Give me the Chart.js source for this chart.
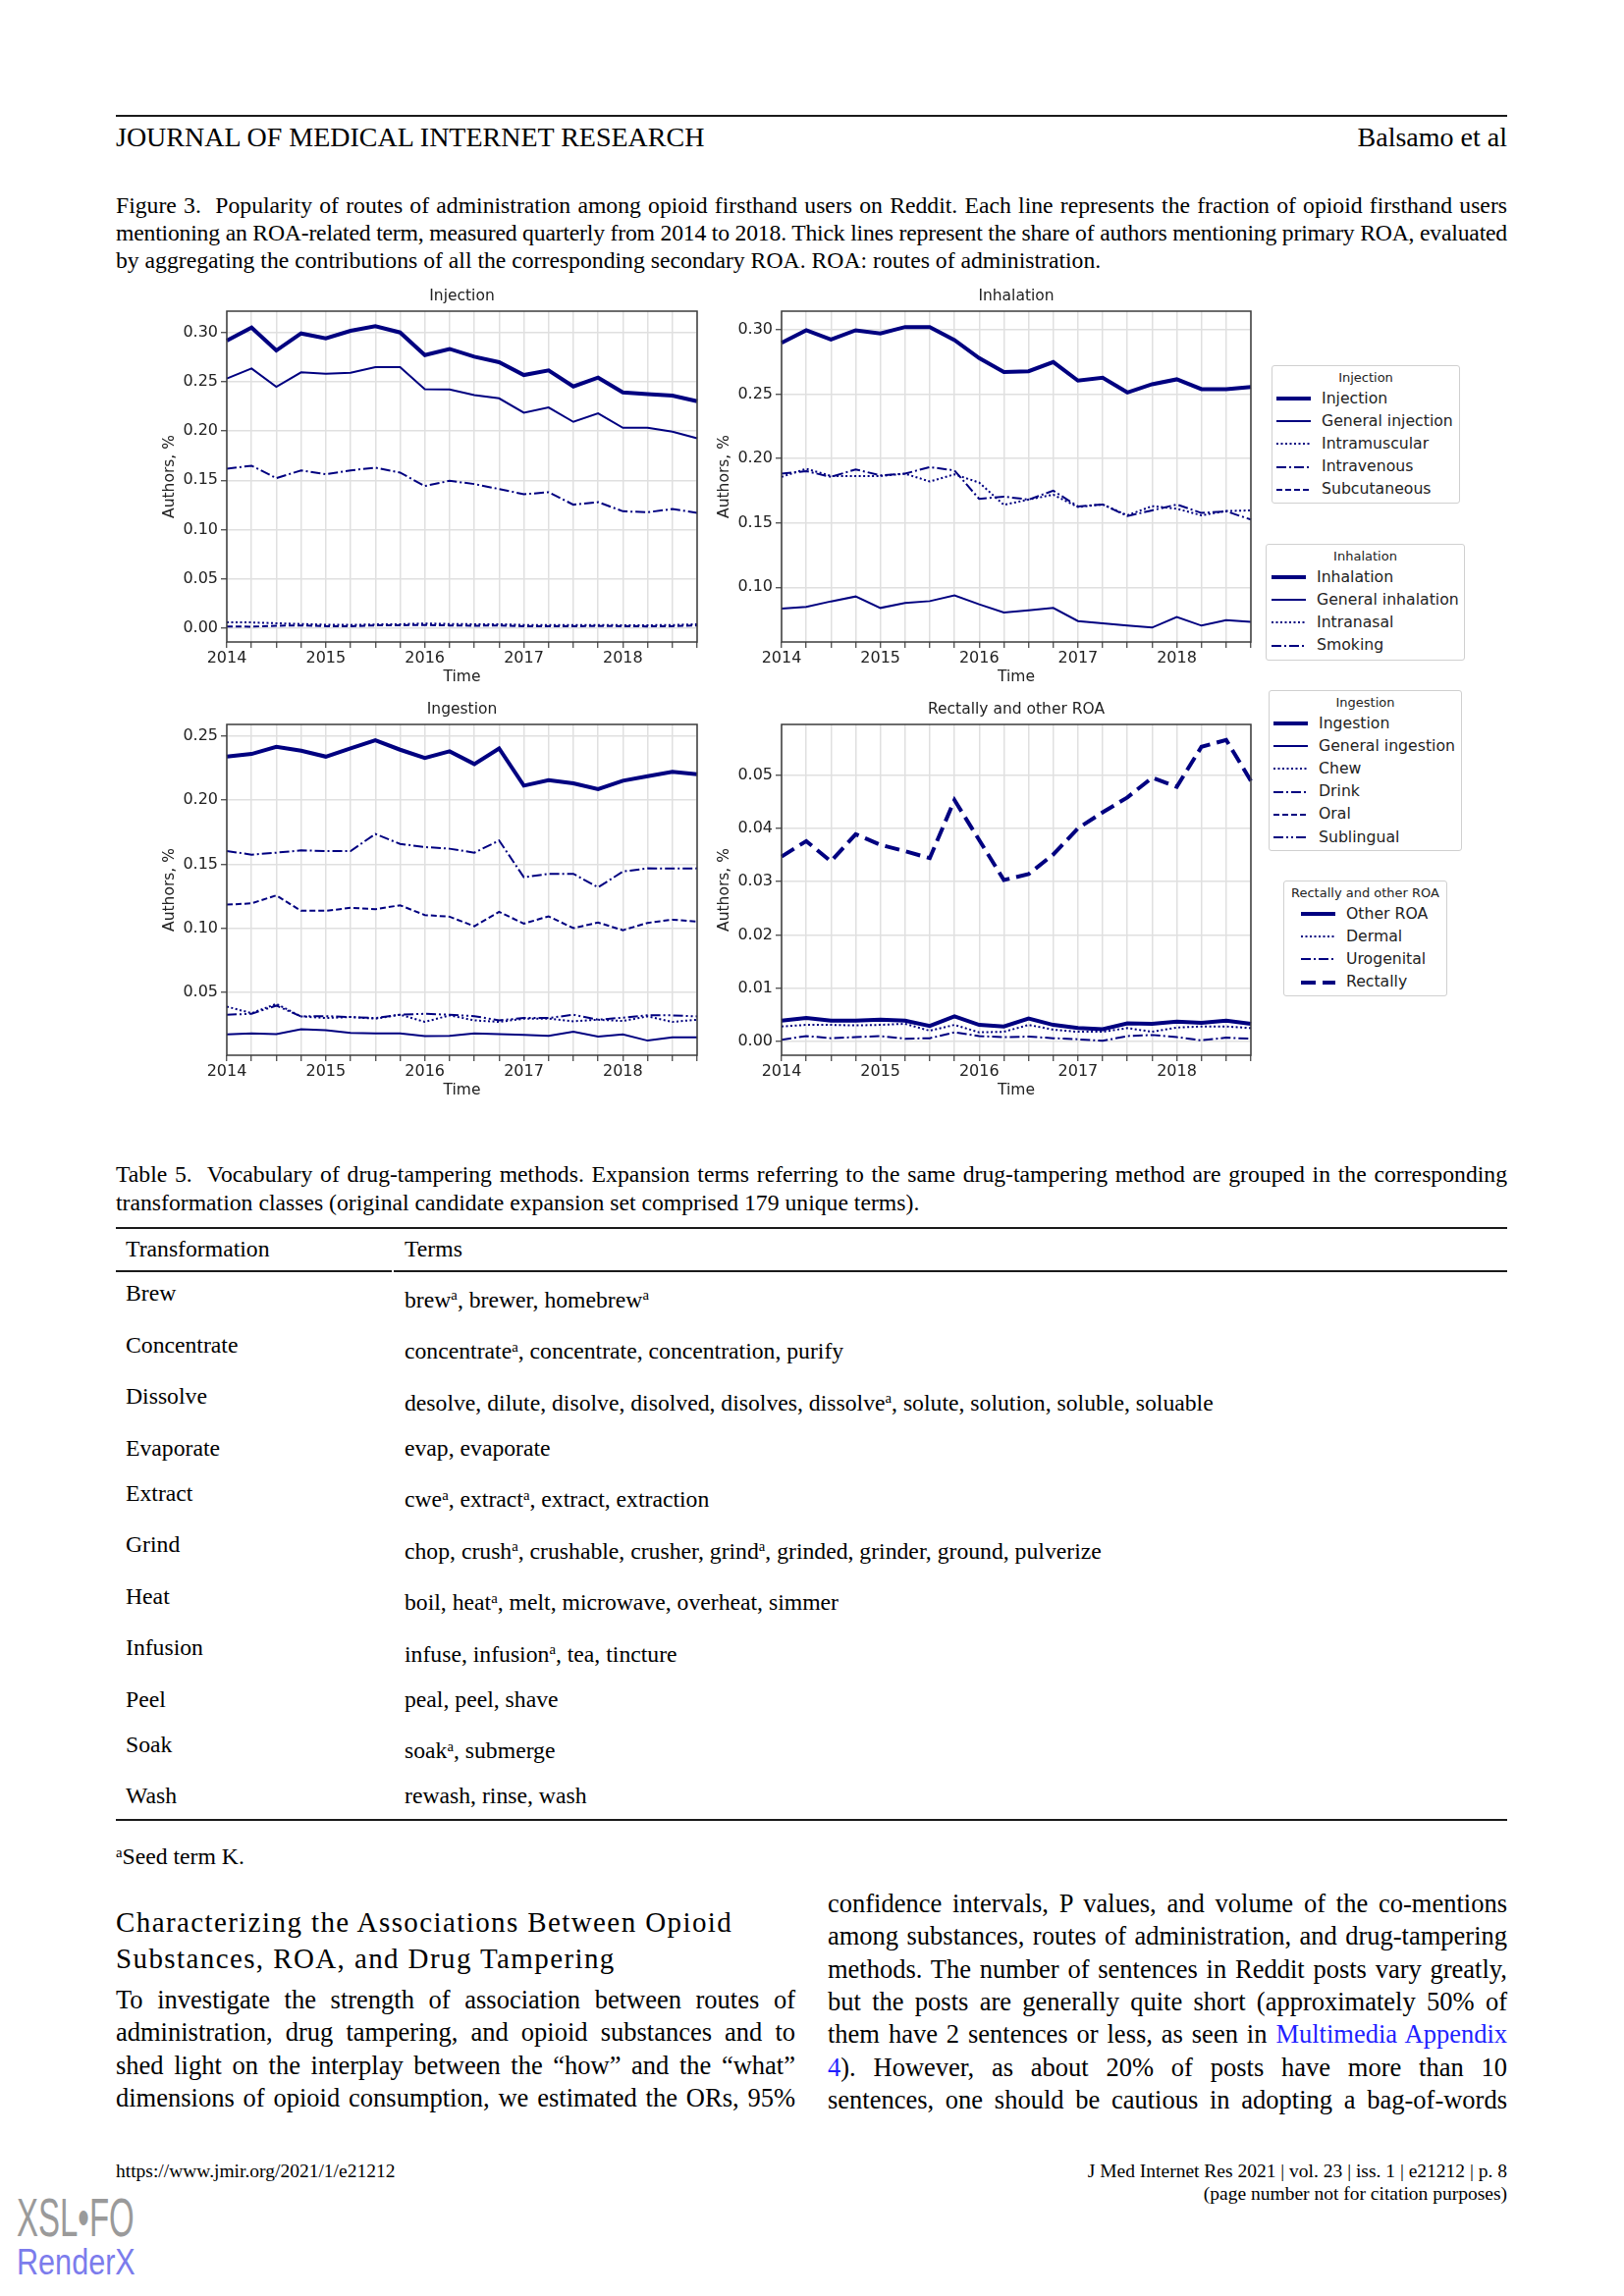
<!DOCTYPE html>
<html>
<head>
<meta charset="utf-8">
<script src="https://cdn.jsdelivr.net/npm/chart.js@4.4.0/dist/chart.umd.min.js"></script>
<style>
html, body { margin: 0; padding: 0; background: #fff; }
body { width: 1654px; height: 2339px; position: relative; overflow: hidden;
       font-family: "Liberation Serif", "Times New Roman", serif; color: #000; }
.t { position: absolute; line-height: 1; }
.nw { white-space: nowrap; }
.j { text-align: justify; text-align-last: justify; }
.rule { position: absolute; background: #1a1a1a; }
.chart { position: absolute; }
.legend { position: absolute; border: 1px solid #d0d0d0; border-radius: 3px; background: #fff;
          font-family: "DejaVu Sans", sans-serif; color: #222; box-sizing: border-box; }
.legend .lt { position: absolute; left: 0; right: 0; text-align: center; font-size: 13px; line-height: 1; }
.legend .li { position: absolute; font-size: 15.7px; line-height: 1; white-space: nowrap; }
.legend svg { position: absolute; overflow: visible; }
sup.s { font-size: 0.62em; position: relative; top: -0.5em; vertical-align: baseline; line-height: 0; }
a.lnk { color: #1f1fff; text-decoration: none; }
</style>
</head>
<body>
<script>
// ---- data (quarterly 2014 Q1 .. 2018 Q4) ----
const quarters = ['2014 Q1','2014 Q2','2014 Q3','2014 Q4','2015 Q1','2015 Q2','2015 Q3','2015 Q4',
  '2016 Q1','2016 Q2','2016 Q3','2016 Q4','2017 Q1','2017 Q2','2017 Q3','2017 Q4',
  '2018 Q1','2018 Q2','2018 Q3','2018 Q4'];
const yearLabels = ['2014', '2015', '2016', '2017', '2018'];

const injection        = [0.2917,0.3050,0.2817,0.2990,0.2940,0.3017,0.3063,0.3000,0.2770,0.2833,0.2754,0.2698,0.2568,0.2615,0.2452,0.2542,0.2392,0.2375,0.2359,0.2302];
const generalInjection = [0.2532,0.2635,0.2449,0.2595,0.2581,0.2591,0.2648,0.2648,0.2425,0.2422,0.2365,0.2332,0.2186,0.2239,0.2093,0.2179,0.2033,0.2033,0.1993,0.1927];
const intramuscular    = [0.0060,0.0058,0.0050,0.0042,0.0035,0.0033,0.0038,0.0040,0.0048,0.0042,0.0040,0.0040,0.0033,0.0032,0.0032,0.0033,0.0030,0.0030,0.0032,0.0040];
const intravenous      = [0.1618,0.1648,0.1522,0.1601,0.1561,0.1601,0.1628,0.1578,0.1442,0.1495,0.1462,0.1412,0.1359,0.1379,0.1253,0.1279,0.1186,0.1176,0.1209,0.1170];
const subcutaneous     = [0.0018,0.0015,0.0025,0.0028,0.0020,0.0020,0.0028,0.0030,0.0032,0.0028,0.0025,0.0027,0.0020,0.0020,0.0020,0.0022,0.0020,0.0018,0.0020,0.0028];

const inhalation        = [0.2898,0.2995,0.2924,0.2995,0.2970,0.3020,0.3020,0.2919,0.2779,0.2670,0.2677,0.2748,0.2604,0.2626,0.2512,0.2576,0.2614,0.2538,0.2538,0.2555];
const generalInhalation = [0.0835,0.0848,0.0891,0.0929,0.0840,0.0878,0.0893,0.0937,0.0868,0.0805,0.0822,0.0840,0.0738,0.0721,0.0703,0.0688,0.0769,0.0703,0.0746,0.0733];
const intranasal        = [0.1857,0.1920,0.1864,0.1864,0.1864,0.1882,0.1821,0.1877,0.1813,0.1640,0.1681,0.1719,0.1623,0.1643,0.1559,0.1630,0.1610,0.1559,0.1592,0.1597];
const smoking           = [0.1882,0.1902,0.1857,0.1915,0.1869,0.1882,0.1933,0.1907,0.1686,0.1704,0.1681,0.1750,0.1628,0.1643,0.1554,0.1597,0.1643,0.1577,0.1590,0.1526];

const ingestion        = [0.2339,0.2360,0.2416,0.2385,0.2339,0.2403,0.2467,0.2393,0.2329,0.2380,0.2281,0.2403,0.2113,0.2156,0.2131,0.2085,0.2151,0.2187,0.2220,0.2202];
const generalIngestion = [0.0174,0.0181,0.0176,0.0214,0.0207,0.0186,0.0181,0.0181,0.0161,0.0163,0.0181,0.0176,0.0169,0.0163,0.0194,0.0156,0.0174,0.0125,0.0151,0.0151];
const chew             = [0.0390,0.0339,0.0411,0.0314,0.0301,0.0309,0.0296,0.0327,0.0271,0.0322,0.0283,0.0271,0.0296,0.0296,0.0276,0.0288,0.0278,0.0314,0.0271,0.0288];
const drink            = [0.1603,0.1575,0.1590,0.1608,0.1603,0.1603,0.1736,0.1659,0.1634,0.1621,0.1590,0.1685,0.1399,0.1425,0.1425,0.1320,0.1443,0.1468,0.1466,0.1468];
const oral             = [0.1185,0.1195,0.1257,0.1137,0.1137,0.1160,0.1150,0.1180,0.1104,0.1091,0.1017,0.1129,0.1037,0.1094,0.1002,0.1045,0.0986,0.1043,0.1068,0.1053];
const sublingual       = [0.0327,0.0334,0.0398,0.0314,0.0316,0.0309,0.0301,0.0327,0.0334,0.0327,0.0316,0.0283,0.0301,0.0301,0.0327,0.0288,0.0304,0.0322,0.0322,0.0314];

const otherRoa   = [0.0039,0.0044,0.0039,0.0039,0.0041,0.0039,0.0029,0.0047,0.0031,0.0028,0.0043,0.0031,0.0025,0.0023,0.0034,0.0033,0.0037,0.0035,0.0039,0.0033];
const dermal     = [0.0028,0.0031,0.0031,0.0030,0.0031,0.0033,0.0020,0.0031,0.0017,0.0018,0.0031,0.0022,0.0018,0.0018,0.0025,0.0018,0.0026,0.0028,0.0028,0.0025];
const urogenital = [0.0003,0.0010,0.0006,0.0008,0.0010,0.0005,0.0006,0.0017,0.0010,0.0008,0.0009,0.0006,0.0004,0.0001,0.0010,0.0012,0.0008,0.0002,0.0007,0.0005];
const rectally   = [0.0347,0.0376,0.0338,0.0389,0.0369,0.0357,0.0344,0.0453,0.0378,0.0303,0.0314,0.0351,0.0400,0.0430,0.0458,0.0495,0.0478,0.0553,0.0566,0.0489];

const yTicksInjection  = [0, 0.05, 0.10, 0.15, 0.20, 0.25, 0.30];
const yTicksInhalation = [0.10, 0.15, 0.20, 0.25, 0.30];
const yTicksIngestion  = [0.05, 0.10, 0.15, 0.20, 0.25];
const yTicksRectally   = [0, 0.01, 0.02, 0.03, 0.04, 0.05];

// table 5
const transformations = ['Brew','Concentrate','Dissolve','Evaporate','Extract','Grind','Heat','Infusion','Peel','Soak','Wash'];
const transformationTerms = [
  ['brew^a','brewer','homebrew^a'],
  ['concentrate^a','concentrate','concentration','purify'],
  ['desolve','dilute','disolve','disolved','disolves','dissolve^a','solute','solution','soluble','soluable'],
  ['evap','evaporate'],
  ['cwe^a','extract^a','extract','extraction'],
  ['chop','crush^a','crushable','crusher','grind^a','grinded','grinder','ground','pulverize'],
  ['boil','heat^a','melt','microwave','overheat','simmer'],
  ['infuse','infusion^a','tea','tincture'],
  ['peal','peel','shave'],
  ['soak^a','submerge'],
  ['rewash','rinse','wash']
];

// ---- line styles ----
const NAVY = '#000080';
const STYLE = {
  primary:    { borderWidth: 4, borderDash: [] },
  general:    { borderWidth: 2, borderDash: [] },
  dotted:     { borderWidth: 2, borderDash: [2, 2.5] },
  dashdot:    { borderWidth: 2, borderDash: [10, 3, 2, 3] },
  dashed:     { borderWidth: 2, borderDash: [6, 3] },
  dashdotdot: { borderWidth: 2, borderDash: [10, 3, 2, 3, 2, 3] },
  thickdash:  { borderWidth: 4, borderDash: [15, 7] }
};

function series(label, data, style) {
  return Object.assign({ label: label, data: data, borderColor: NAVY, backgroundColor: NAVY,
    fill: false, tension: 0, pointRadius: 0 }, STYLE[style], { styleName: style });
}

// ---- text helpers ----
function text(html, x, baseline, size, opts) {
  opts = opts || {};
  const d = document.createElement('div');
  d.className = 't' + (opts.width ? (opts.justify ? ' j' : '') : ' nw');
  d.innerHTML = html;
  d.style.fontSize = size + 'px';
  d.style.top = (baseline - 0.8375 * size) + 'px';
  if (opts.right != null) { d.style.right = (1654 - opts.right) + 'px'; d.style.textAlign = 'right'; }
  else d.style.left = x + 'px';
  if (opts.width) d.style.width = opts.width + 'px';
  if (opts.css) d.style.cssText += opts.css;
  document.body.appendChild(d);
  if (opts.width) {
    let ls = 0;
    while (d.offsetHeight > size * 1.5 && ls > -2) { ls -= 0.1; d.style.letterSpacing = ls + 'px'; }
  }
  return d;
}
function rule(x, y, w, h) {
  const r = document.createElement('div');
  r.className = 'rule';
  r.style.cssText += 'left:' + x + 'px;top:' + y + 'px;width:' + w + 'px;height:' + h + 'px;';
  document.body.appendChild(r);
}
function sup(s) { return s.replace(/\^a/g, '<sup class="s">a</sup>'); }

// ---- page header ----
rule(118, 117, 1417, 1.5);
text('JOURNAL OF MEDICAL INTERNET RESEARCH', 118, 149, 28);
text('Balsamo et al', 0, 149, 28, { right: 1535 });

const figCaption = [
  'Figure 3.&nbsp; Popularity of routes of administration among opioid firsthand users on Reddit. Each line represents the fraction of opioid firsthand users',
  'mentioning an ROA-related term, measured quarterly from 2014 to 2018. Thick lines represent the share of authors mentioning primary ROA, evaluated',
  'by aggregating the contributions of all the corresponding secondary ROA. ROA: routes of administration.'
];
figCaption.forEach((l, i) => text(l, 118, 217.5 + i * 28.3, 23.7, i < 2 ? { width: 1417, justify: true } : {}));

// ---- charts ----
Chart.defaults.font.family = '"DejaVu Sans", sans-serif';
Chart.defaults.color = '#222';

const framePlugin = {
  id: 'frame',
  afterDraw(chart) {
    const a = chart.chartArea, ctx = chart.ctx;
    ctx.save();
    ctx.strokeStyle = '#3c3c3c';
    ctx.lineWidth = 1.5;
    ctx.strokeRect(a.left, a.top, a.right - a.left, a.bottom - a.top);
    ctx.restore();
  }
};

function makeChart(area, title, datasets, yMin, yMax, yTicks) {
  const L = area.l - 81, T = area.t - 34, W = area.r + 10 - L, H = area.b + 50 - T;
  const c = document.createElement('canvas');
  c.className = 'chart';
  c.width = W; c.height = H;
  c.style.left = L + 'px'; c.style.top = T + 'px';
  c.style.width = W + 'px'; c.style.height = H + 'px';
  document.body.appendChild(c);
  return new Chart(c.getContext('2d'), {
    type: 'line',
    data: { labels: quarters, datasets: datasets },
    plugins: [framePlugin],
    options: {
      responsive: false, animation: false, devicePixelRatio: 1,
      layout: { padding: { left: 0, right: 10, top: 0, bottom: 0 } },
      plugins: {
        legend: { display: false }, tooltip: { enabled: false },
        title: { display: true, text: title, color: '#222', fullSize: false,
                 font: { size: 15.5, weight: 'normal', lineHeight: 1.2 },
                 padding: { top: 10, bottom: 5.4 } }
      },
      scales: {
        x: {
          type: 'category', offset: false,
          afterFit: s => { s.height = 50; },
          grid: { color: '#e0e0e0', lineWidth: 1.5, tickLength: 6, tickColor: '#3c3c3c', tickWidth: 1.2 },
          border: { display: false },
          ticks: { autoSkip: false, maxRotation: 0, padding: 1, color: '#222', font: { size: 16 },
                   callback: (v, i) => (i % 4 === 0 ? yearLabels[i / 4] : '') },
          title: { display: true, text: 'Time', color: '#222', font: { size: 15.5 }, padding: { top: 0, bottom: 4.7 } }
        },
        y: {
          min: yMin, max: yMax,
          afterFit: s => { s.width = 81; },
          afterBuildTicks: s => { s.ticks = yTicks.map(v => ({ value: v })); },
          grid: { color: '#e0e0e0', lineWidth: 1.5, tickLength: 6, tickColor: '#3c3c3c', tickWidth: 1.2 },
          border: { display: false },
          ticks: { padding: 3, color: '#222', font: { size: 16 }, callback: v => Number(v).toFixed(2) },
          title: { display: true, text: 'Authors, %', color: '#222', font: { size: 15.5 }, padding: { top: 13.7, bottom: 0 } }
        }
      }
    }
  });
}

const injectionSets = [
  series('Injection', injection, 'primary'),
  series('General injection', generalInjection, 'general'),
  series('Intramuscular', intramuscular, 'dotted'),
  series('Intravenous', intravenous, 'dashdot'),
  series('Subcutaneous', subcutaneous, 'dashed')
];
const inhalationSets = [
  series('Inhalation', inhalation, 'primary'),
  series('General inhalation', generalInhalation, 'general'),
  series('Intranasal', intranasal, 'dotted'),
  series('Smoking', smoking, 'dashdot')
];
const ingestionSets = [
  series('Ingestion', ingestion, 'primary'),
  series('General ingestion', generalIngestion, 'general'),
  series('Chew', chew, 'dotted'),
  series('Drink', drink, 'dashdot'),
  series('Oral', oral, 'dashed'),
  series('Sublingual', sublingual, 'dashdotdot')
];
const rectallySets = [
  series('Other ROA', otherRoa, 'primary'),
  series('Dermal', dermal, 'dotted'),
  series('Urogenital', urogenital, 'dashdot'),
  series('Rectally', rectally, 'thickdash')
];

makeChart({ l: 231, r: 710, t: 316.5, b: 653.5 }, 'Injection', injectionSets, -0.014, 0.3216, yTicksInjection);
makeChart({ l: 796, r: 1274, t: 316.5, b: 653.5 }, 'Inhalation', inhalationSets, 0.0576, 0.3143, yTicksInhalation);
makeChart({ l: 231, r: 710, t: 737.5, b: 1074.5 }, 'Ingestion', ingestionSets, 0.0011, 0.259, yTicksIngestion);
makeChart({ l: 796, r: 1274, t: 737.5, b: 1074.5 }, 'Rectally and other ROA', rectallySets, -0.0026, 0.0595, yTicksRectally);

// legends built from the dataset definitions
function legend(box, title, sets) {
  const d = document.createElement('div');
  d.className = 'legend';
  d.style.left = box.x + 'px'; d.style.top = box.y + 'px';
  d.style.width = box.w + 'px'; d.style.height = box.h + 'px';
  const t = document.createElement('div');
  t.className = 'lt'; t.textContent = title; t.style.top = (11.5 - 6.5) + 'px';
  d.appendChild(t);
  sets.forEach((s, i) => {
    const cy = 33 + 23.2 * i;
    const svgNS = 'http://www.w3.org/2000/svg';
    const svg = document.createElementNS(svgNS, 'svg');
    svg.setAttribute('width', 36); svg.setAttribute('height', 10);
    svg.style.left = box.sx + 'px'; svg.style.top = (cy - 5) + 'px';
    const ln = document.createElementNS(svgNS, 'line');
    ln.setAttribute('x1', 0); ln.setAttribute('x2', 35); ln.setAttribute('y1', 5); ln.setAttribute('y2', 5);
    ln.setAttribute('stroke', NAVY); ln.setAttribute('stroke-width', s.borderWidth);
    if (s.borderDash.length) ln.setAttribute('stroke-dasharray', s.borderDash.join(' '));
    svg.appendChild(ln); d.appendChild(svg);
    const lb = document.createElement('div');
    lb.className = 'li'; lb.textContent = s.label;
    lb.style.left = (box.sx + 46) + 'px'; lb.style.top = (cy - 8.5) + 'px';
    d.appendChild(lb);
  });
  document.body.appendChild(d);
}
legend({ x: 1295, y: 372, w: 192, h: 141, sx: 4 }, 'Injection', injectionSets);
legend({ x: 1289, y: 554, w: 203, h: 119, sx: 5 }, 'Inhalation', inhalationSets);
legend({ x: 1292, y: 703, w: 197, h: 164, sx: 4 }, 'Ingestion', ingestionSets);
legend({ x: 1307, y: 897, w: 167, h: 118, sx: 17 }, 'Rectally and other ROA', rectallySets);

// ---- table 5 ----
const tableCaption = [
  'Table 5.&nbsp; Vocabulary of drug-tampering methods. Expansion terms referring to the same drug-tampering method are grouped in the corresponding',
  'transformation classes (original candidate expansion set comprised 179 unique terms).'
];
tableCaption.forEach((l, i) => text(l, 118, 1205 + i * 29, 23.7, i === 0 ? { width: 1417, justify: true } : {}));

rule(118, 1250, 1417, 2);
text('Transformation', 128, 1281, 23.7);
text('Terms', 412, 1281, 23.7);
rule(118, 1294, 281, 2);
rule(401, 1294, 1134, 2);
let rowBase = 1326;
transformations.forEach((name, i) => {
  const terms = transformationTerms[i].join(', ');
  const hasSup = terms.indexOf('^a') >= 0;
  text(name, 128, rowBase, 23.7);
  text(sup(terms), 412, rowBase + (hasSup ? 6.5 : 0), 23.7);
  rowBase += 46 + (hasSup ? 6.5 : 0);
});
rule(118, 1853, 1417, 2);
text('<sup class="s">a</sup>Seed term K.', 118, 1900, 23.7);

// ---- section heading and body ----
text('Characterizing the Associations Between Opioid', 118, 1968, 29, { css: 'letter-spacing:1.4px;' });
text('Substances, ROA, and Drug Tampering', 118, 2005, 29, { css: 'letter-spacing:1.4px;' });

const leftBody = [
  'To investigate the strength of association between routes of',
  'administration, drug tampering, and opioid substances and to',
  'shed light on the interplay between the \u201chow\u201d and the \u201cwhat\u201d',
  'dimensions of opioid consumption, we estimated the ORs, 95%'
];
leftBody.forEach((l, i) => text(l, 118, 2046 + i * 33.4, 26.5, { width: 692, justify: true }));

const rightBody = [
  'confidence intervals, P values, and volume of the co-mentions',
  'among substances, routes of administration, and drug-tampering',
  'methods. The number of sentences in Reddit posts vary greatly,',
  'but the posts are generally quite short (approximately 50% of',
  'them have 2 sentences or less, as seen in <a class="lnk">Multimedia Appendix</a>',
  '<a class="lnk">4</a>). However, as about 20% of posts have more than 10',
  'sentences, one should be cautious in adopting a bag-of-words'
];
rightBody.forEach((l, i) => text(l, 843, 1948 + i * 33.4, 26.5, { width: 692, justify: true }));

// ---- footer ----
text('https://www.jmir.org/2021/1/e21212', 118, 2218, 19.5);
text('J Med Internet Res 2021 | vol. 23 | iss. 1 | e21212 | p. 8', 0, 2218, 19.5, { right: 1535 });
text('(page number not for citation purposes)', 0, 2241, 19.5, { right: 1535 });
text('XSL\u2022FO', 17, 2278, 55, { css: 'font-family:"Liberation Sans",sans-serif;color:#9a9a9a;transform:scaleX(0.6);transform-origin:0 0;' });
text('RenderX', 17, 2317, 36, { css: 'font-family:"Liberation Sans",sans-serif;color:#7c7cec;transform:scaleX(0.85);transform-origin:0 0;' });
</script>
</body>
</html>
